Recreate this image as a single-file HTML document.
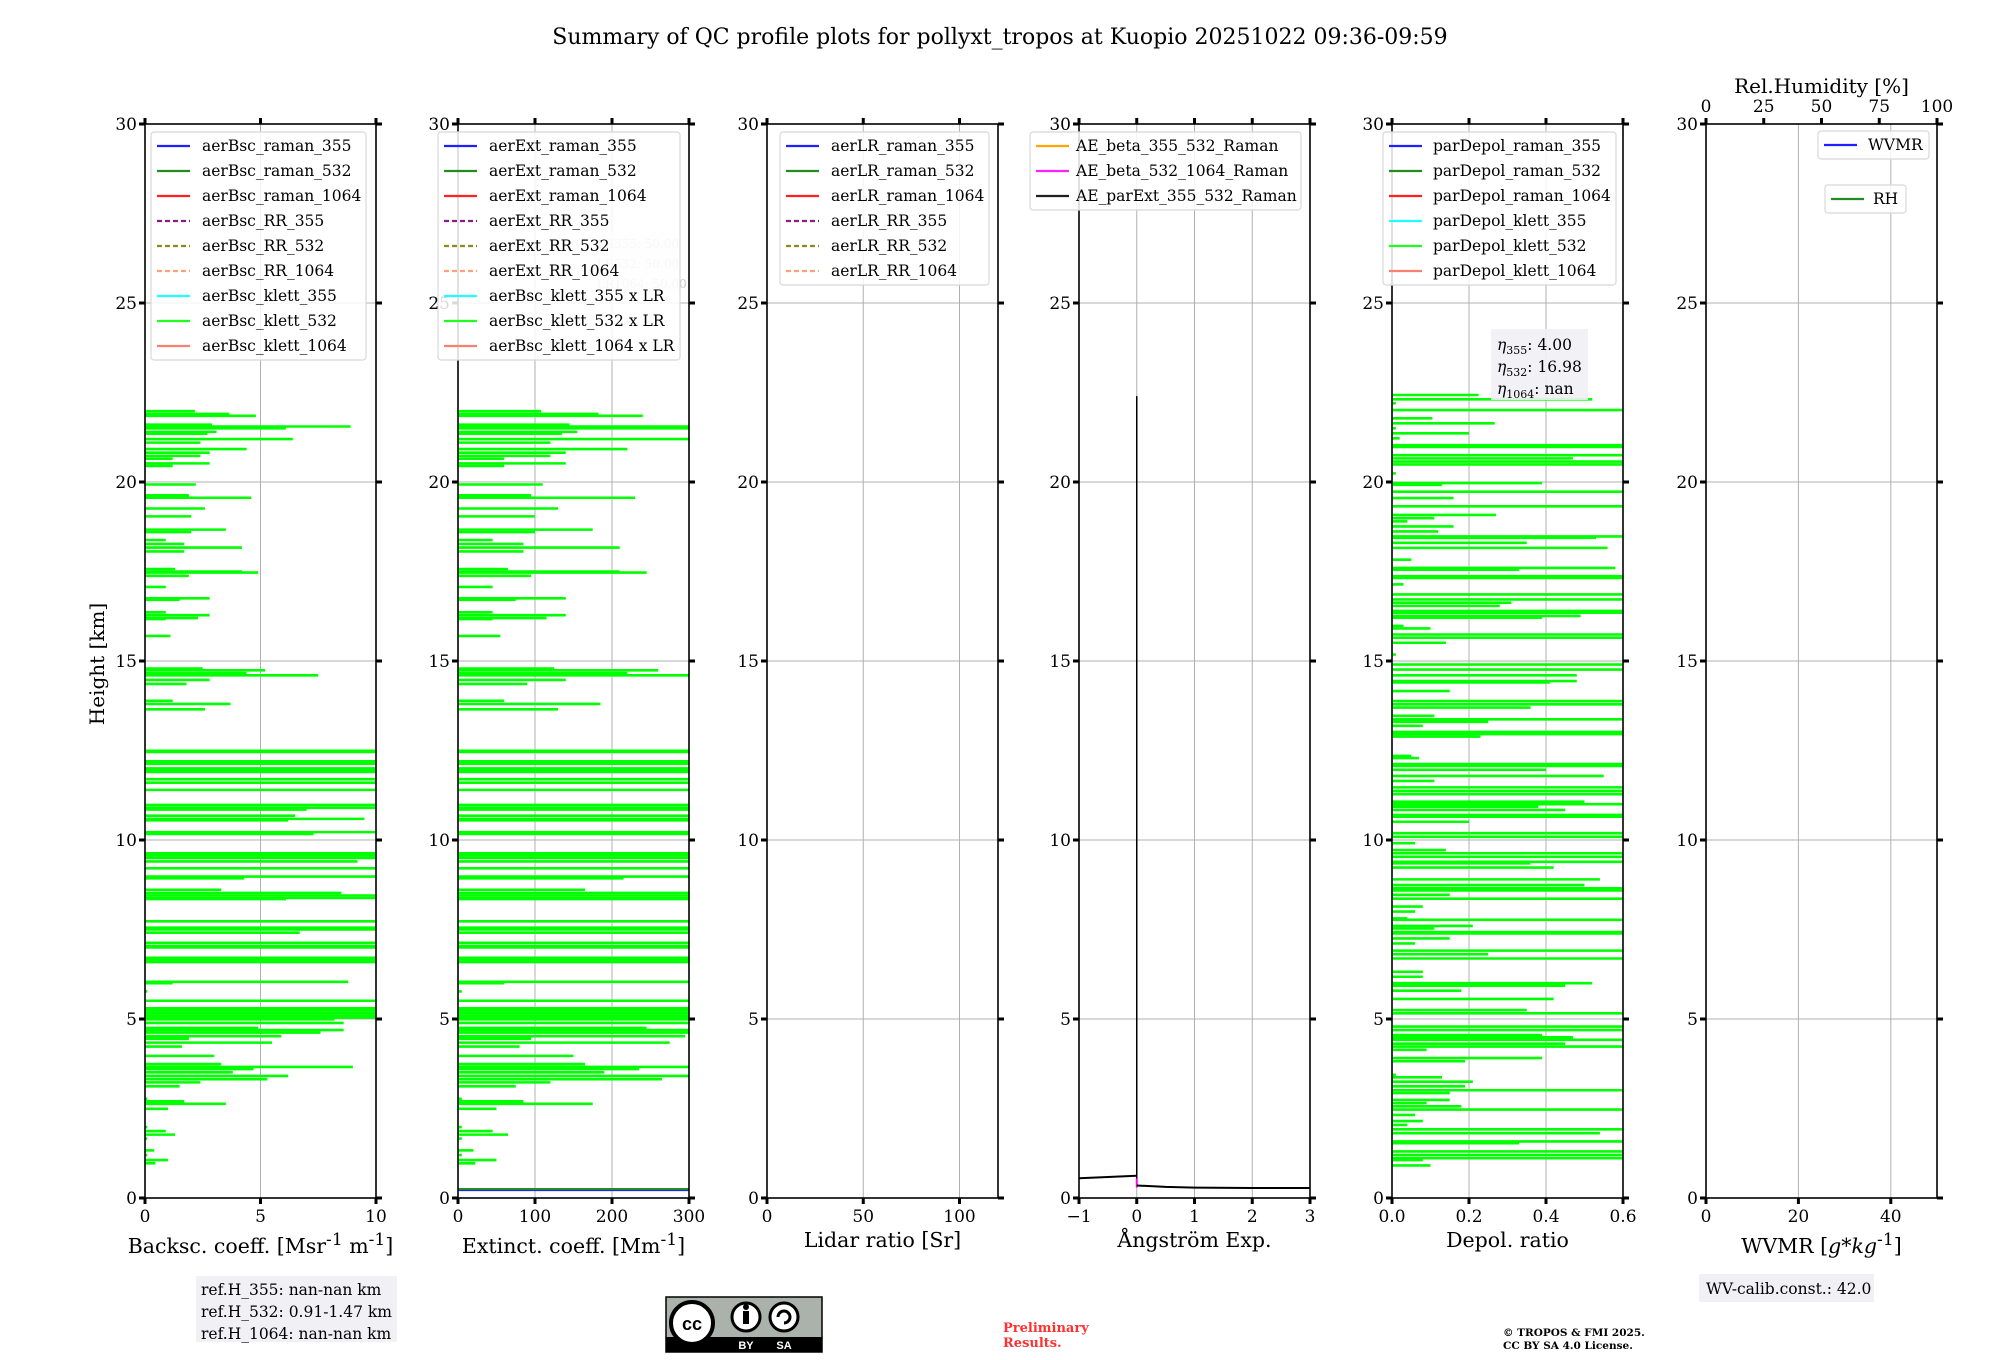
<!DOCTYPE html>
<html><head><meta charset="utf-8">
<style>
html,body{margin:0;padding:0;background:#fff;}
svg{display:block;font-family:"DejaVu Serif","Liberation Serif",serif;}
</style></head>
<body>
<svg id="fig" width="2000" height="1360" viewBox="0 0 2000 1360" xmlns="http://www.w3.org/2000/svg">
<text x="1000" y="44" font-size="22" text-anchor="middle">Summary of QC profile plots for pollyxt_tropos at Kuopio 20251022 09:36-09:59</text>
<g id="plots"></g>
<text transform="translate(104,664) rotate(-90)" font-size="20" text-anchor="middle">Height [km]</text>

<g>
<rect x="196" y="1276" width="201" height="66" fill="#f0f0f5"/>
<text x="201" y="1295" font-size="15.5">ref.H_355: nan-nan km</text>
<text x="201" y="1317" font-size="15.5">ref.H_532: 0.91-1.47 km</text>
<text x="201" y="1339" font-size="15.5">ref.H_1064: nan-nan km</text>
</g>
<g>
<rect x="666" y="1297" width="156" height="55" fill="#aab2ab" stroke="#000" stroke-width="1.5"/>
<rect x="666" y="1337" width="156" height="15" fill="#000"/>
<circle cx="692" cy="1323" r="21" fill="#fff" stroke="#000" stroke-width="4"/>
<text x="692" y="1330" font-size="18" font-weight="bold" text-anchor="middle" font-family="Liberation Sans,sans-serif">cc</text>
<circle cx="746" cy="1317" r="14" fill="#fff" stroke="#000" stroke-width="3"/>
<rect x="743" y="1311" width="6" height="13" fill="#000"/>
<circle cx="746" cy="1307" r="3" fill="#000"/>
<circle cx="784" cy="1317" r="14" fill="#fff" stroke="#000" stroke-width="3"/>
<path d="M778 1317 a6 6 0 1 1 6 6" fill="none" stroke="#000" stroke-width="3"/>
<text x="746" y="1349" font-size="11" fill="#fff" text-anchor="middle" font-family="Liberation Sans,sans-serif" font-weight="bold">BY</text>
<text x="784" y="1349" font-size="11" fill="#fff" text-anchor="middle" font-family="Liberation Sans,sans-serif" font-weight="bold">SA</text>
</g>
<g fill="#ff3030" font-size="13" font-weight="bold">
<text x="1003" y="1332">Preliminary</text>
<text x="1003" y="1347">Results.</text>
</g>
<g font-size="10.5" font-weight="bold">
<text x="1503" y="1336">© TROPOS &amp; FMI 2025.</text>
<text x="1503" y="1349">CC BY SA 4.0 License.</text>
</g>
<g>
<rect x="1699" y="1274" width="175" height="28" fill="#f0f0f5"/>
<text x="1706" y="1294" font-size="15.5">WV-calib.const.: 42.0</text>
</g>
</svg>
<script>
// ---- data ----
const bscHeights = [21.98,21.9,21.85,21.6,21.55,21.5,21.4,21.35,21.2,21.1,20.92,20.82,20.73,20.65,20.52,20.45,19.93,19.63,19.56,19.26,19.04,18.67,18.6,18.38,18.27,18.17,18.06,17.57,17.5,17.47,17.38,17.07,16.75,16.71,16.36,16.28,16.2,16.17,15.7,14.79,14.74,14.66,14.6,14.47,14.36,13.89,13.8,13.65,12.49,12.46,12.2,12.13,12.0,11.95,11.9,11.7,11.6,11.4,10.98,10.9,10.85,10.68,10.59,10.55,10.22,10.17,9.63,9.57,9.5,9.4,9.21,8.98,8.93,8.61,8.52,8.45,8.38,8.35,7.73,7.55,7.5,7.41,7.13,7.04,7.0,6.71,6.66,6.59,6.04,6.0,5.77,5.51,5.3,5.24,5.17,5.1,5.04,4.99,4.89,4.75,4.69,4.62,4.52,4.45,4.34,4.23,3.97,3.74,3.66,3.6,3.51,3.41,3.32,3.23,3.12,2.77,2.7,2.63,2.49,1.98,1.87,1.77,1.66,1.33,1.2,1.06,0.97];
const bscValues  = [2.16,3.65,4.8,2.9,8.9,6.1,3.1,2.7,6.4,2.4,4.4,2.8,2.4,1.2,2.8,1.2,2.2,1.9,4.6,2.6,2.0,3.5,2.0,0.9,1.7,4.2,1.7,1.3,4.2,4.9,1.9,0.9,2.8,1.5,0.9,2.8,2.3,0.9,1.1,2.5,5.2,4.4,7.5,2.8,1.8,1.2,3.7,2.6,11,11,11,11,11,11,11,11,11,11,11,11,7.0,6.5,9.5,6.2,11,7.3,11,11,11,9.2,11,11,4.3,3.3,8.5,11,11,6.1,11,11,11,6.7,11,11,11,11,11,11,8.8,1.2,0.1,11,11,11,11,11,11,8.2,8.6,4.9,8.6,7.6,5.9,1.9,5.5,1.6,3.0,3.3,9.0,4.7,3.8,6.2,5.3,2.4,1.5,0.1,1.7,3.5,1.0,0.1,0.9,1.3,0.1,0.4,0.1,1.0,0.45];
const lidarRatio = 50;
const depolHeights = [22.43,22.31,22.2,22.01,21.78,21.64,21.5,21.36,21.22,21.03,20.98,20.75,20.66,20.57,20.49,20.24,19.97,19.92,19.73,19.55,19.32,19.08,18.99,18.9,18.76,18.62,18.48,18.44,18.3,18.16,17.83,17.6,17.55,17.37,17.32,17.14,16.86,16.72,16.63,16.54,16.4,16.35,16.26,16.21,15.98,15.91,15.74,15.65,15.51,15.18,14.9,14.76,14.6,14.44,14.4,14.16,13.88,13.79,13.7,13.47,13.37,13.3,13.19,13.02,12.96,12.89,12.35,12.29,12.12,12.07,11.96,11.79,11.65,11.47,11.37,11.28,11.07,11.0,10.93,10.84,10.7,10.65,10.51,10.19,10.09,9.91,9.72,9.63,9.53,9.39,9.35,9.23,8.9,8.74,8.65,8.59,8.47,8.36,8.14,8.0,7.81,7.77,7.6,7.53,7.43,7.39,7.25,7.11,6.91,6.81,6.69,6.32,6.18,6.0,5.93,5.79,5.56,5.25,5.16,4.79,4.69,4.55,4.49,4.42,4.31,4.23,4.14,3.91,3.82,3.44,3.37,3.25,3.12,3.01,2.93,2.74,2.65,2.56,2.47,2.32,2.15,2.04,1.92,1.81,1.58,1.53,1.3,1.2,1.11,1.06,0.91];
const depolValues  = [0.225,0.52,0.01,0.65,0.105,0.267,0.01,0.2,0.02,0.65,0.65,0.65,0.47,0.65,0.65,0.01,0.39,0.13,0.65,0.16,0.65,0.27,0.11,0.04,0.16,0.12,0.65,0.53,0.35,0.56,0.05,0.58,0.33,0.65,0.65,0.03,0.65,0.65,0.31,0.28,0.65,0.65,0.49,0.39,0.03,0.1,0.65,0.65,0.14,0.01,0.65,0.65,0.48,0.48,0.41,0.15,0.65,0.65,0.36,0.11,0.65,0.25,0.08,0.65,0.65,0.23,0.05,0.07,0.65,0.65,0.4,0.55,0.11,0.65,0.65,0.65,0.5,0.65,0.38,0.45,0.65,0.65,0.2,0.65,0.65,0.06,0.14,0.65,0.65,0.65,0.36,0.42,0.54,0.5,0.65,0.65,0.15,0.65,0.08,0.06,0.04,0.65,0.21,0.11,0.65,0.65,0.15,0.06,0.65,0.25,0.65,0.08,0.08,0.52,0.45,0.18,0.42,0.35,0.65,0.65,0.65,0.39,0.47,0.65,0.45,0.65,0.09,0.39,0.19,0.01,0.13,0.21,0.19,0.65,0.15,0.15,0.09,0.18,0.65,0.06,0.08,0.04,0.65,0.54,0.65,0.33,0.65,0.65,0.65,0.08,0.1];
const aeLowX = [-1,0];
const aeLowH = [0.55,0.62];
const aeHighX = [0,0.5,1,2,3];
const aeHighH = [0.35,0.31,0.29,0.28,0.28];
const aeVertTop = 22.4;
const extBlueH = 0.22;
const extGreenH = 0.25;
const yTicks = [0,5,10,15,20,25,30];

const NS='http://www.w3.org/2000/svg';
const root=document.getElementById('plots');
const Y0=1198, Y30=124;
function yS(h){return Y0+(Y30-Y0)*h/30;}
function mk(tag,attrs,parent){const e=document.createElementNS(NS,tag);for(const k in attrs)e.setAttribute(k,attrs[k]);(parent||root).appendChild(e);return e;}
function txt(s,attrs,parent){const e=mk('text',attrs,parent);e.textContent=s;return e;}

const panels=[
 {name:'backscatter',left:145,xmin:0,xmax:10,ticks:[0,5,10],tl:['0','5','10'],label:'Backsc. coeff. [Msr<sup>-1</sup> m<sup>-1</sup>]'},
 {name:'extinction',left:458,xmin:0,xmax:300,ticks:[0,100,200,300],tl:['0','100','200','300'],label:'Extinct. coeff. [Mm<sup>-1</sup>]'},
 {name:'lidar-ratio',left:767,xmin:0,xmax:120,ticks:[0,50,100],tl:['0','50','100'],label:'Lidar ratio [Sr]'},
 {name:'angstrom',left:1079,xmin:-1,xmax:3,ticks:[-1,0,1,2,3],tl:['\u22121','0','1','2','3'],label:'Ångström Exp.'},
 {name:'depol',left:1392,xmin:0,xmax:0.6,ticks:[0,0.2,0.4,0.6],tl:['0.0','0.2','0.4','0.6'],label:'Depol. ratio'},
 {name:'wvmr',left:1706,xmin:0,xmax:50,ticks:[0,20,40],tl:['0','20','40'],label:'WVMR [<i>g*kg</i><sup>-1</sup>]'}
];
const W=231;
panels.forEach((p,i)=>{
  const g=mk('g',{});
  
  
  p.g=g;
  p.x=v=>p.left+(v-p.xmin)/(p.xmax-p.xmin)*W;
  const cp=mk('clipPath',{id:'clip'+i},g);
  mk('rect',{x:p.left,y:Y30,width:W,height:Y0-Y30},cp);
  p.ticks.forEach(t=>{const X=p.x(t);const l=mk('line',{x1:X,x2:X,y1:Y30,y2:Y0,stroke:'#b0b0b0','stroke-width':1},g);});
  yTicks.forEach(t=>{const Yv=yS(t);const l=mk('line',{x1:p.left,x2:p.left+W,y1:Yv,y2:Yv,stroke:'#b0b0b0','stroke-width':1},g);});
  p.dg=mk('g',{'clip-path':'url(#clip'+i+')'},g);
});
function profile(p,hs,vs,name){
  const g=mk('g',{},p.dg);
  
  
  hs.forEach((h,k)=>{
    const l=mk('line',{x1:p.x(0),x2:p.x(vs[k]),y1:yS(h),y2:yS(h),stroke:'#00ff00','stroke-width':2.6},g);
    
    
  });
}
profile(panels[0],bscHeights,bscValues,'aerbsc-klett-532-line');
profile(panels[1],bscHeights,bscValues.map(v=>v*lidarRatio),'aerext-klett-532-line');
profile(panels[4],depolHeights,depolValues,'pardepol-klett-532-line');
{
 const p=panels[1];
 const a=mk('line',{x1:p.x(0),x2:p.x(300),y1:yS(extBlueH),y2:yS(extBlueH),stroke:'#2020ff','stroke-width':2},p.dg);
 
 const b=mk('line',{x1:p.x(0),x2:p.x(300),y1:yS(extGreenH),y2:yS(extGreenH),stroke:'#228b22','stroke-width':2},p.dg);
 
}
{
 const p=panels[3];
 const v=mk('line',{x1:p.x(0),x2:p.x(0),y1:yS(0.3),y2:yS(aeVertTop),stroke:'#000','stroke-width':1.5},p.dg);
 
 const m=mk('line',{x1:p.x(0),x2:p.x(0),y1:yS(0.3),y2:yS(0.55),stroke:'#ff00ff','stroke-width':2},p.dg);
 
 const l1=mk('polyline',{points:aeLowX.map((x,k)=>p.x(x)+','+yS(aeLowH[k])).join(' '),fill:'none',stroke:'#000','stroke-width':2},p.dg);
 
 const l2=mk('polyline',{points:aeHighX.map((x,k)=>p.x(x)+','+yS(aeHighH[k])).join(' '),fill:'none',stroke:'#000','stroke-width':2},p.dg);
 
}
panels.forEach((p,i)=>{
  const g=p.g;
  const fr=mk('rect',{x:p.left,y:Y30,width:W,height:Y0-Y30,fill:'none',stroke:'#000','stroke-width':1.6},g);
  
  yTicks.forEach(t=>{const Yv=yS(t);
    mk('line',{x1:p.left-6,x2:p.left,y1:Yv,y2:Yv,stroke:'#000','stroke-width':3},g);
    mk('line',{x1:p.left+W,x2:p.left+W+6,y1:Yv,y2:Yv,stroke:'#000','stroke-width':3},g);
    const tl=txt(String(t),{x:p.left-8,y:Yv+6,'font-size':17,'text-anchor':'end'},g);
    
  });
  p.ticks.forEach((t,k)=>{const X=p.x(t);
    mk('line',{x1:X,x2:X,y1:Y0,y2:Y0+6,stroke:'#000','stroke-width':3},g);
    if(i<5) mk('line',{x1:X,x2:X,y1:Y30-6,y2:Y30,stroke:'#000','stroke-width':3},g);
    const tl=txt(p.tl[k],{x:X,y:Y0+24,'font-size':17,'text-anchor':'middle'},g);
    
  });
  const fo=mk('foreignObject',{x:p.left-70,y:1226,width:W+140,height:34},g);
  const d=document.createElement('div');
  d.style.cssText='font-family:"DejaVu Serif",serif;font-size:20.5px;text-align:center;line-height:28px;white-space:nowrap;';
  d.innerHTML=p.label;
  
  
  fo.appendChild(d);
});
{
 const p=panels[5];const rh=[0,25,50,75,100];
 rh.forEach(t=>{const X=p.left+t/100*W;
   mk('line',{x1:X,x2:X,y1:Y30-6,y2:Y30,stroke:'#000','stroke-width':3},p.g);
   const tl=txt(String(t),{x:X,y:Y30-12,'font-size':17,'text-anchor':'middle'},p.g);
   
 });
 const t=txt('Rel.Humidity [%]',{x:p.left+W/2,y:93,'font-size':20,'text-anchor':'middle'},p.g);
 
}
const C={b:'#2020ff',g:'#228b22',r:'#ff2020',pu:'#8b1a8b',ol:'#8b8b1a',ls:'#ffa07a',cy:'#20ffff',li:'#20ff20',sa:'#fa8072',or:'#ffa500',mg:'#ff20ff',k:'#202020'};
function legend(x,y,w,entries,name,textX){
  const g=mk('g',{});
  
  
  mk('rect',{x:x,y:y,width:w,height:entries.length*25+3,rx:3,fill:'#fff','fill-opacity':0.85,stroke:'#d8d8d8','stroke-width':1.2},g);
  entries.forEach((e,k)=>{const cy=y+14+k*25;
    const at={x1:x+6,x2:x+39,y1:cy,y2:cy,stroke:e[1],'stroke-width':2.2};
    if(e[2])at['stroke-dasharray']='5,3';
    mk('line',at,g);
    const t=txt(e[0],{x:x+(textX||51),y:cy+5,'font-size':15.5},g);
    
    
  });
}
legend(151,132,215,[['aerBsc_raman_355',C.b],['aerBsc_raman_532',C.g],['aerBsc_raman_1064',C.r],['aerBsc_RR_355',C.pu,1],['aerBsc_RR_532',C.ol,1],['aerBsc_RR_1064',C.ls,1],['aerBsc_klett_355',C.cy],['aerBsc_klett_532',C.li],['aerBsc_klett_1064',C.sa]],'backscatter-legend');
{const g=mk('g',{});
 mk('rect',{x:594,y:232,width:86,height:62,fill:'#f0f0f5','fill-opacity':0.6},g);
 ['LR355: 50.00','LR532: 50.00','LR1064: 50.00'].forEach((s,k)=>txt(s,{x:597,y:248+k*20,'font-size':12,fill:'#c8c8c8'},g));}
legend(438,132,242,[['aerExt_raman_355',C.b],['aerExt_raman_532',C.g],['aerExt_raman_1064',C.r],['aerExt_RR_355',C.pu,1],['aerExt_RR_532',C.ol,1],['aerExt_RR_1064',C.ls,1],['aerBsc_klett_355 x LR',C.cy],['aerBsc_klett_532 x LR',C.li],['aerBsc_klett_1064 x LR',C.sa]],'extinction-legend');
legend(780,132,209,[['aerLR_raman_355',C.b],['aerLR_raman_532',C.g],['aerLR_raman_1064',C.r],['aerLR_RR_355',C.pu,1],['aerLR_RR_532',C.ol,1],['aerLR_RR_1064',C.ls,1]],'lidar-ratio-legend');
legend(1030,132,271,[['AE_beta_355_532_Raman',C.or],['AE_beta_532_1064_Raman',C.mg],['AE_parExt_355_532_Raman',C.k]],'angstrom-legend',46);
legend(1383,132,233,[['parDepol_raman_355',C.b],['parDepol_raman_532',C.g],['parDepol_raman_1064',C.r],['parDepol_klett_355',C.cy],['parDepol_klett_532',C.li],['parDepol_klett_1064',C.sa]],'depol-legend',50);
{const g=mk('g',{});
 mk('rect',{x:1491,y:329,width:97,height:71,fill:'#f0f0f5','fill-opacity':0.9},g);
 [['355','4.00'],['532','16.98'],['1064','nan']].forEach((e,k)=>{const t=mk('text',{x:1497,y:350+k*22,'font-size':15.5},g);
  t.innerHTML='<tspan font-style="italic">η</tspan><tspan font-size="11" dy="4">'+e[0]+'</tspan><tspan dy="-4">: '+e[1]+'</tspan>';});}
legend(1818,131,111,[['WVMR',C.b]],'wvmr-legend',50);
legend(1825,185,81,[['RH',C.g]],'rh-legend',48);
</script>
</body></html>
